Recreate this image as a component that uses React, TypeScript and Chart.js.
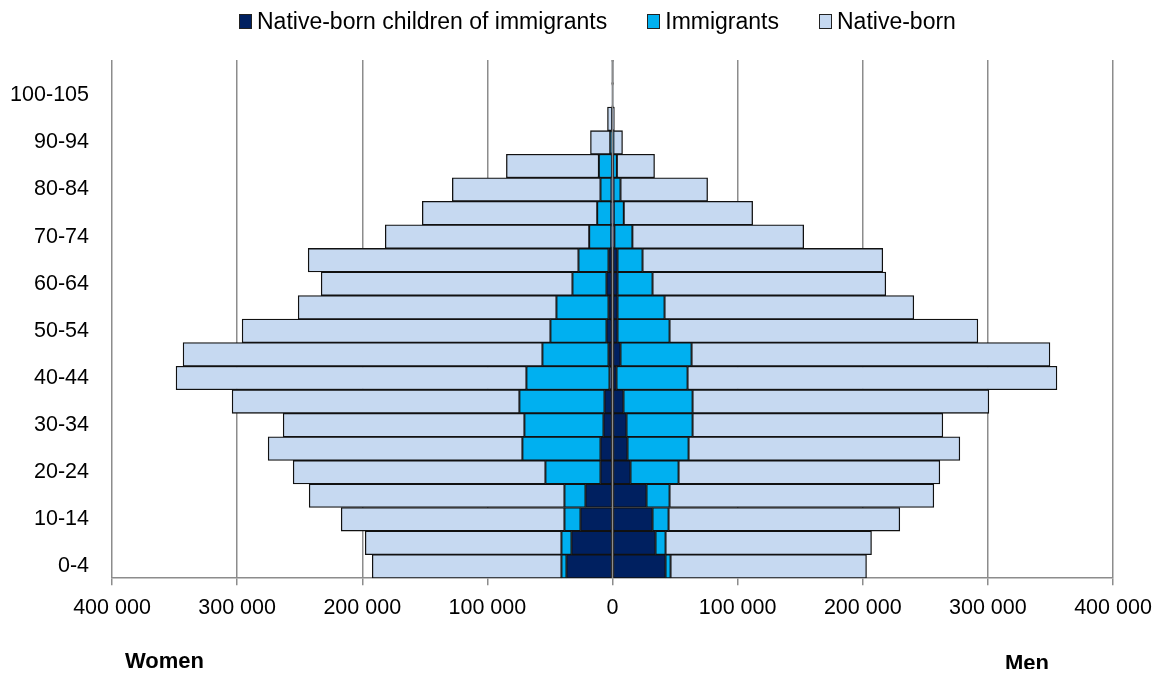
import React, { useEffect, useRef } from 'react';
import { Chart, registerables } from 'chart.js';

Chart.register(...registerables);

const ageGroups = [
  '0-4', '5-9', '10-14', '15-19', '20-24', '25-29', '30-34', '35-39', '40-44', '45-49',
  '50-54', '55-59', '60-64', '65-69', '70-74', '75-79', '80-84', '85-89', '90-94', '95-99',
  '100-105', '105+',
];

// Women (drawn to the left), in persons
const womenChildrenOfImmigrants = [
  36800, 32800, 25600, 21600, 9600, 9600, 7200, 6400, 2400, 3200,
  4800, 3200, 4800, 3200, 1000, 1000, 800, 500, 300, 100, 0, 0,
];
const womenImmigrants = [
  4000, 8000, 12800, 16800, 44000, 62400, 63200, 68000, 66400, 52800,
  44800, 41600, 27200, 24000, 17600, 11200, 8800, 10400, 1500, 300, 0, 0,
];
const womenNativeBorn = [
  151200, 156800, 178400, 204000, 201600, 203200, 192800, 229600, 280000, 287200,
  246400, 206400, 200800, 216000, 163000, 139800, 118400, 73900, 15800, 3600, 400, 100,
];

// Men (drawn to the right), in persons
const menChildrenOfImmigrants = [
  42400, 34400, 32000, 27200, 14400, 12000, 11200, 8800, 3200, 6400,
  4000, 4000, 4000, 4000, 1500, 1000, 800, 500, 200, 100, 0, 0,
];
const menImmigrants = [
  4000, 8000, 12800, 18400, 38400, 48800, 52800, 55200, 56800, 56800,
  41600, 37600, 28000, 20000, 14400, 8000, 5600, 3000, 500, 100, 0, 0,
];
const menNativeBorn = [
  156600, 164600, 184800, 211200, 208800, 216800, 200000, 236800, 295200, 286400,
  246400, 199200, 186400, 192000, 136900, 103000, 69600, 30100, 7300, 1300, 300, 100,
];

const seriesNames = ['Native-born children of immigrants', 'Immigrants', 'Native-born'];
const seriesColors = ['#002060', '#00B0F0', '#C6D9F1'];

const FONT = "'Liberation Sans', Arial, sans-serif";
const GRID = '#8c8c8c';

const fmt = (v: number) =>
  String(Math.abs(Math.round(v))).replace(/\B(?=(\d{3})+(?!\d))/g, ' ');

const zeroLinePlugin = {
  id: 'zeroLine',
  afterDatasetsDraw(chart: any) {
    const { ctx, chartArea, scales } = chart;
    const x = scales.x.getPixelForValue(0);
    ctx.save();
    ctx.strokeStyle = GRID;
    ctx.lineWidth = 1.5;
    ctx.beginPath();
    ctx.moveTo(x, chartArea.top);
    ctx.lineTo(x, chartArea.bottom);
    ctx.stroke();
    ctx.restore();
  },
};

export default function App() {
  const canvasRef = useRef<HTMLCanvasElement | null>(null);

  useEffect(() => {
    if (!canvasRef.current) return;
    const women = [womenChildrenOfImmigrants, womenImmigrants, womenNativeBorn];
    const men = [menChildrenOfImmigrants, menImmigrants, menNativeBorn];
    const common = {
      borderColor: '#111111',
      borderWidth: 1.3,
      borderSkipped: false,
      barPercentage: 1,
      categoryPercentage: 1,
      stack: 'pyramid',
    };
    const datasets: any[] = [];
    for (let i = 0; i < 3; i++) {
      datasets.push({
        ...common,
        label: seriesNames[i] + ' (women)',
        data: women[i].map((v) => -v),
        backgroundColor: seriesColors[i],
      });
    }
    for (let i = 0; i < 3; i++) {
      datasets.push({
        ...common,
        label: seriesNames[i],
        data: men[i],
        backgroundColor: seriesColors[i],
      });
    }

    const chart = new Chart(canvasRef.current, {
      type: 'bar',
      data: { labels: ageGroups, datasets },
      plugins: [zeroLinePlugin],
      options: {
        animation: false,
        responsive: true,
        maintainAspectRatio: false,
        indexAxis: 'y',
        layout: { padding: { top: 52, bottom: 38, left: 2, right: 44 } },
        plugins: {
          legend: { display: false },
          tooltip: { enabled: false },
        },
        scales: {
          x: {
            stacked: true,
            min: -400000,
            max: 400000,
            afterFit: (scale: any) => {
              scale.paddingLeft = 0;
              scale.paddingRight = 0;
            },
            grid: {
              color: GRID,
              lineWidth: 1.5,
              drawTicks: true,
              tickLength: 7,
              tickColor: GRID,
            },
            border: { display: true, color: GRID, width: 1.5 },
            ticks: {
              stepSize: 100000,
              padding: 10,
              color: '#000',
              font: { family: FONT, size: 21.5 },
              callback: (v: any) => fmt(Number(v)),
            },
          },
          y: {
            stacked: true,
            reverse: true,
            afterFit: (scale: any) => {
              scale.width = 102;
            },
            grid: { display: false, drawTicks: false },
            border: { display: false },
            ticks: {
              autoSkip: false,
              padding: 23,
              color: '#000',
              font: { family: FONT, size: 21.5 },
              callback: (_v: any, index: number) => (index % 2 === 0 ? ageGroups[index] : ''),
            },
          },
        },
      } as any,
    });
    return () => chart.destroy();
  }, []);

  const legendItem = (i: number) => (
    <div key={i} style={{ display: 'flex', alignItems: 'center', marginRight: i < 2 ? 40 : 0 }}>
      <span
        style={{
          display: 'inline-block',
          width: 11,
          height: 13,
          background: seriesColors[i],
          border: '1px solid #222',
          marginRight: 5,
        }}
      />
      <span>{seriesNames[i]}</span>
    </div>
  );

  return (
    <div style={{ position: 'relative', width: 1149, height: 661, fontFamily: FONT }}>
      <div style={{ position: 'absolute', left: 0, top: 0, width: 1149, height: 661 }}>
        <canvas ref={canvasRef} />
      </div>
      <div
        style={{
          position: 'absolute',
          left: 231,
          top: 0,
          height: 26,
          lineHeight: '26px',
          fontSize: 23,
          color: '#000',
          display: 'flex',
          whiteSpace: 'nowrap',
        }}
      >
        {[0, 1, 2].map(legendItem)}
      </div>
      <div
        style={{
          position: 'absolute',
          left: 117,
          top: 640,
          lineHeight: '26px',
          fontSize: 22,
          fontWeight: 'bold',
          color: '#000',
        }}
      >
        Women
      </div>
      <div
        style={{
          position: 'absolute',
          left: 997,
          top: 642,
          lineHeight: '26px',
          fontSize: 22,
          fontWeight: 'bold',
          color: '#000',
        }}
      >
        Men
      </div>
    </div>
  );
}
